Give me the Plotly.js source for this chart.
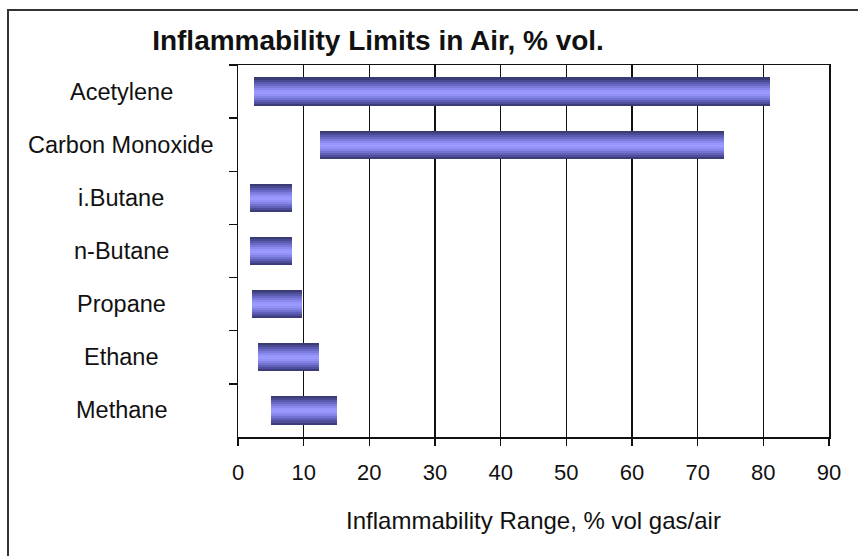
<!DOCTYPE html>
<html>
<head>
<meta charset="utf-8">
<script src="https://cdn.plot.ly/plotly-3.0.1.min.js"></script>
<style>
  html, body { margin: 0; padding: 0; background: #ffffff; }
  #chart { width: 858px; height: 556px; }
</style>
</head>
<body>
<div id="chart"></div>
<script>
// ---- data (top to bottom as in the chart) ----
const gases = ["Acetylene", "Carbon Monoxide", "i.Butane", "n-Butane", "Propane", "Ethane", "Methane"];
const lowerLimit = [2.5, 12.5, 1.8, 1.8, 2.1, 3.0, 5.0];
const upperLimit = [81, 74, 8.2, 8.2, 9.7, 12.4, 15.0];
const xTicks = [0, 10, 20, 30, 40, 50, 60, 70, 80, 90];

const chartTitle = "Inflammability Limits in Air, % vol.";
const xTitle = "Inflammability Range, % vol gas/air";

// ---- styling ----
const FONT = "Liberation Sans, Arial, Helvetica, sans-serif";
const BAR_W = 0.53;
// cylinder shading, top stripe first
const stripeColors = ["#3a3a74", "#4a4a92", "#5a5aae", "#6a6ac6", "#7b7bdc", "#8a8aee",
                      "#9696fc", "#9a9aff", "#9292f6", "#8484e6", "#7272d0", "#6060b8",
                      "#4e4e9a", "#3c3c7a"];

const spans = upperLimit.map((u, i) => u - lowerLimit[i]);
const n = stripeColors.length;
const sw = BAR_W / n;

const traces = stripeColors.map((c, k) => ({
  type: "bar",
  orientation: "h",
  y: gases,
  x: spans,
  base: lowerLimit,
  width: k === n - 1 ? sw : sw * 1.6,
  offset: -BAR_W / 2 + k * sw,
  marker: { color: c, line: { width: 0 } },
  hoverinfo: "skip",
  showlegend: false
}));

// plot area in pixels: x 238..829, y 65..437
const L = 238, R = 858 - 829, T = 65, B = 556 - 437;
const PW = 858 - L - R, PH = 556 - T - B;

const annotations = gases.map(g => ({
  xref: "paper", yref: "y",
  x: (121 - L) / PW, y: g,
  xanchor: "center", yanchor: "middle",
  text: g, showarrow: false,
  font: { family: FONT, size: 23.5, color: "#111" }
}));

const layout = {
  width: 858, height: 556,
  margin: { l: L, r: R, t: T, b: B, pad: 0 },
  paper_bgcolor: "#ffffff",
  plot_bgcolor: "#ffffff",
  barmode: "overlay",
  bargap: 0,
  font: { family: FONT, color: "#111" },
  title: {
    text: "<b>" + chartTitle + "</b>",
    font: { family: FONT, size: 28, color: "#111" },
    xref: "paper", x: (378 - L) / PW, xanchor: "center",
    yref: "container", y: 1 - 40 / 556, yanchor: "middle"
  },
  xaxis: {
    range: [0, 90],
    tickvals: xTicks,
    ticktext: xTicks.map(String),
    showgrid: true, gridcolor: "#111", gridwidth: 1.5,
    zeroline: false,
    showline: true, linecolor: "#111", linewidth: 1.5, mirror: true,
    ticks: "outside", ticklen: 7, tickwidth: 1.5, tickcolor: "#111",
    ticklabelstandoff: 8,
    tickfont: { family: FONT, size: 22, color: "#111" },
    title: { text: xTitle, font: { family: FONT, size: 24, color: "#111" }, standoff: 28 },
    fixedrange: true
  },
  yaxis: {
    type: "category",
    categoryorder: "array", categoryarray: gases,
    autorange: "reversed",
    showgrid: false, zeroline: false,
    showline: true, linecolor: "#111", linewidth: 1.5, mirror: true,
    ticks: "outside", tickson: "boundaries", ticklen: 8, tickwidth: 1.5, tickcolor: "#111",
    showticklabels: false,
    fixedrange: true
  },
  annotations: annotations,
  shapes: [{
    type: "rect", xref: "paper", yref: "paper",
    x0: (8 - L) / PW, x1: (900 - L) / PW,
    y0: (437 - 620) / PH, y1: (437 - 10) / PH,
    line: { color: "#333", width: 2 }, fillcolor: "rgba(0,0,0,0)", layer: "below"
  }]
};

Plotly.newPlot("chart", traces, layout, { displayModeBar: false, staticPlot: true });
</script>
</body>
</html>
